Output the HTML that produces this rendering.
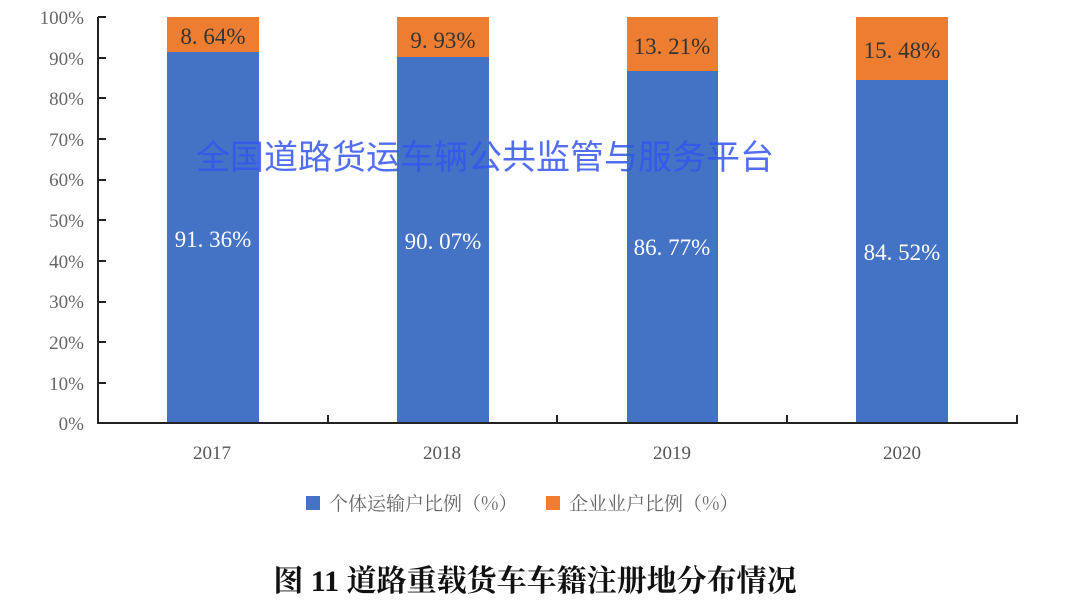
<!DOCTYPE html>
<html><head><meta charset="utf-8"><style>
html,body{margin:0;padding:0;background:#fff;}
svg{display:block}
</style></head><body>
<svg width="1080" height="613" viewBox="0 0 1080 613" xmlns="http://www.w3.org/2000/svg">
<g font-family="'Liberation Serif','Noto Serif CJK SC',serif" fill="#666" font-size="19" text-anchor="end">
<text x="84" y="24">100%</text><text x="84" y="65">90%</text><text x="84" y="105">80%</text>
<text x="84" y="146">70%</text><text x="84" y="186">60%</text><text x="84" y="227">50%</text>
<text x="84" y="268">40%</text><text x="84" y="308">30%</text><text x="84" y="349">20%</text>
<text x="84" y="390">10%</text><text x="84" y="430">0%</text>
</g>
<g>
<rect x="167" y="17" width="92" height="35" fill="#ED7D31"/><rect x="167" y="52" width="92" height="371" fill="#4472C4"/>
<rect x="397" y="17" width="92" height="40" fill="#ED7D31"/><rect x="397" y="57" width="92" height="366" fill="#4472C4"/>
<rect x="627" y="17" width="91" height="54" fill="#ED7D31"/><rect x="627" y="71" width="91" height="352" fill="#4472C4"/>
<rect x="856" y="17" width="92" height="63" fill="#ED7D31"/><rect x="856" y="80" width="92" height="343" fill="#4472C4"/>
</g>
<g stroke="#222" stroke-width="2" fill="none">
<path d="M98 17V423H1018"/>
<path d="M98 17h8M98 58h8M98 98h8M98 139h8M98 180h8M98 220h8M98 261h8M98 302h8M98 342h8M98 383h8"/>
<path d="M328 423v-8M557 423v-8M787 423v-8M1017 423v-8"/>
</g>
<g font-family="'Liberation Serif','Noto Serif CJK SC',serif" font-size="23" text-anchor="middle">
<g fill="#333">
<text x="213" y="44">8. 64%</text><text x="443" y="48">9. 93%</text>
<text x="672" y="54">13. 21%</text><text x="902" y="58">15. 48%</text>
</g>
<g fill="#fff">
<text x="213" y="247">91. 36%</text><text x="443" y="249">90. 07%</text>
<text x="672" y="255">86. 77%</text><text x="902" y="260">84. 52%</text>
</g>
</g>
<text x="485" y="169" font-family="'Noto Sans CJK SC',sans-serif" font-size="34" fill="#3355ee" fill-opacity="0.85" text-anchor="middle">全国道路货运车辆公共监管与服务平台</text>
<g font-family="'Liberation Serif','Noto Serif CJK SC',serif" font-size="19" fill="#555" text-anchor="middle">
<text x="212" y="459">2017</text><text x="442" y="459">2018</text><text x="672" y="459">2019</text><text x="902" y="459">2020</text>
</g>
<rect x="306" y="496" width="14" height="14" fill="#4472C4"/>
<rect x="546" y="496" width="14" height="14" fill="#ED7D31"/>
<g font-family="'Noto Serif CJK SC',serif" font-size="19" fill="#666">
<text x="329" y="510">个体运输户比例（%）</text>
<text x="569" y="510">企业业户比例（%）</text>
</g>
<text x="535" y="591" font-family="'Liberation Serif','Noto Serif CJK SC',serif" font-size="30" font-weight="bold" fill="#111" text-anchor="middle">图 11 道路重载货车车籍注册地分布情况</text>
</svg>
</body></html>
